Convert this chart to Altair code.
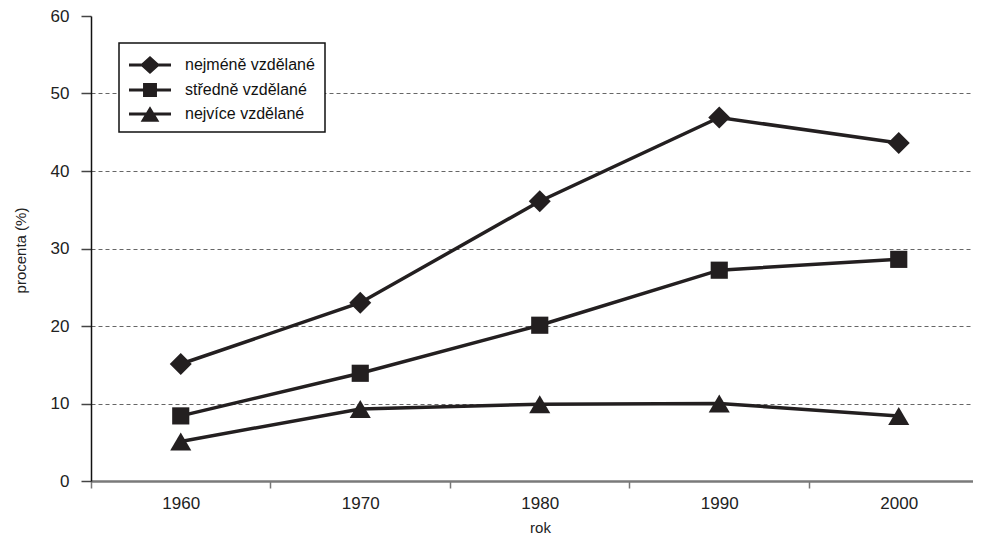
import altair as alt
import pandas as pd

years = [1960, 1970, 1980, 1990, 2000]
series_names = ["nejméně vzdělané", "středně vzdělané", "nejvíce vzdělané"]
least = [15.1, 23.0, 36.1, 46.9, 43.6]
middle = [8.4, 13.9, 20.1, 27.2, 28.6]
most = [5.1, 9.3, 9.9, 10.0, 8.4]

rows = []
for name, vals in zip(series_names, [least, middle, most]):
    for y, v in zip(years, vals):
        rows.append({"rok": y, "hodnota": v, "skupina": name})
df = pd.DataFrame(rows)

FONT = "Liberation Sans"
INK = "#231f20"
W, H = 882, 465
px_per_year = 179.5 / 10
x_max = 1955 + W / px_per_year

x_enc = alt.X(
    "rok:Q",
    scale=alt.Scale(domain=[1955, x_max], nice=False, zero=False),
    axis=alt.Axis(
        values=[1955, 1960, 1965, 1970, 1975, 1980, 1985, 1990, 1995, 2000],
        labelExpr="datum.value % 10 == 0 ? datum.value : ''",
        tickOpacity={"condition": {"test": "datum.value % 10 == 0", "value": 0}, "value": 1},
        tickSize=7, tickWidth=1.5, tickColor="#777777",
        domainColor="#7a7a7a", domainWidth=2.5,
        labelFont=FONT, labelFontSize=17, labelColor="#222222", labelPadding=7,
        grid=False,
        title="rok", titleFont=FONT, titleFontSize=15, titleFontWeight="normal",
        titleColor="#222222", titleX=449, titleY=51, titleBaseline="alphabetic",
        titleAlign="center",
    ),
)
y_enc = alt.Y(
    "hodnota:Q",
    scale=alt.Scale(domain=[0, 60], nice=False),
    axis=alt.Axis(
        values=[0, 10, 20, 30, 40, 50, 60],
        tickSize=10, tickWidth=1.5, tickColor="#444444",
        domainColor="#111111", domainWidth=1.5,
        labelFont=FONT, labelFontSize=17, labelColor="#222222", labelPadding=12,
        grid=True, gridDash=[4, 3], gridColor="#666666", gridWidth=1,
        gridOpacity={"condition": {"test": "datum.value > 0 && datum.value < 60", "value": 1}, "value": 0},
        title="procenta (%)", titleFont=FONT, titleFontSize=15, titleFontWeight="normal",
        titleColor="#222222", titleX=-71, titleY=234, titleAngle=-90,
        titleBaseline="middle", titleAlign="center",
    ),
)

base = alt.Chart(df)

lines = base.mark_line(color=INK, strokeWidth=3.5).encode(
    x=x_enc, y=y_enc, detail="skupina:N"
)

# marker shapes (unit box -1..1 scaled to sqrt(size) = 22 px)
marker_paths = [
    "M0,-1L1,0L0,1L-1,0Z",
    "M-0.78,-0.78H0.78V0.78H-0.78Z",
    "M0,-0.82L0.96,0.82H-0.96Z",
]

points = base.mark_point(filled=True, color=INK, opacity=1, strokeWidth=0, size=484).encode(
    x=x_enc,
    y=y_enc,
    shape=alt.Shape("skupina:N",
                    scale=alt.Scale(domain=series_names, range=marker_paths),
                    legend=None),
)

legend_paths = [
    "M-1.75,-0.125H1.75V0.125H-1.75Z M0,-0.75L0.83,0L0,0.75L-0.83,0Z",
    "M-1.75,-0.125H1.75V0.125H-1.75Z M-0.58,-0.58H0.58V0.58H-0.58Z",
    "M-1.75,-0.125H1.75V0.125H-1.75Z M0,-0.64L0.78,0.64H-0.78Z",
]

legend_layer = base.transform_filter("false").mark_point(
    filled=True, color=INK, opacity=1, size=576, strokeWidth=0
).encode(
    x=x_enc,
    y=y_enc,
    shape=alt.Shape(
        "skupina:N",
        scale=alt.Scale(domain=series_names, range=legend_paths),
        legend=alt.Legend(
            title=None, orient="none", legendX=28, legendY=27,
            symbolSize=576, symbolFillColor=INK, symbolStrokeWidth=0,
            symbolOpacity=1, symbolOffset=9,
            labelFont=FONT, labelFontSize=16, labelColor="#111111",
            labelExpr="datum.label + '\u00a0\u00a0'",
            labelOffset=23, rowPadding=4, padding=10,
            strokeColor="#111111", fillColor="white",
        ),
    ),
)

chart = (
    alt.layer(lines, points, legend_layer)
    .resolve_scale(shape="independent")
    .properties(
        width=W, height=H,
        autosize=alt.AutoSizeParams(type="none"),
        padding={"left": 83, "top": 8, "right": 0, "bottom": 54},
    )
    .configure_view(stroke=None)
    .configure_legend(strokeWidth=1.5)
)

chart.save("out.html", embed_options={"renderer": "svg", "actions": False})
